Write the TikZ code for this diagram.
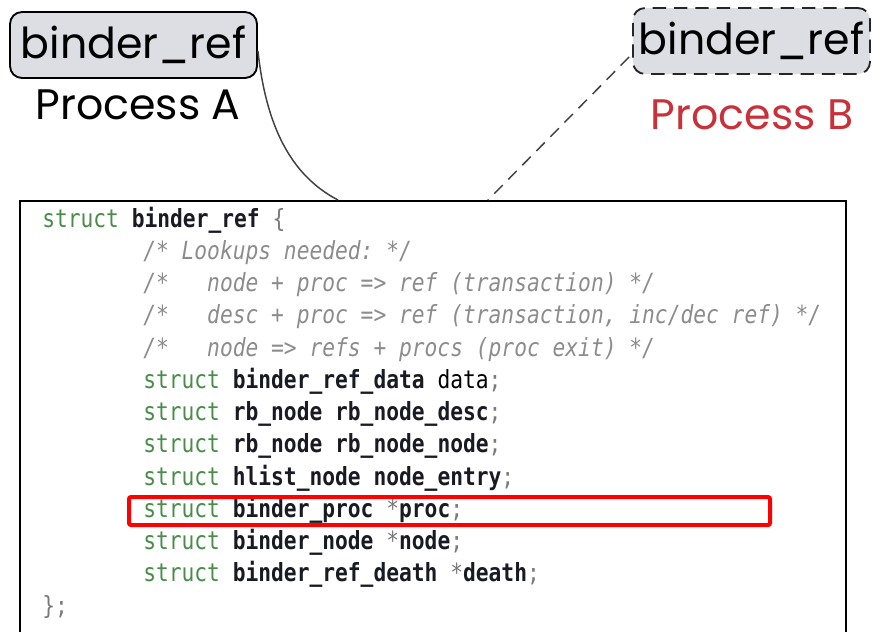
\documentclass[tikz,border=0pt]{standalone}
\usepackage{fontspec}
\usetikzlibrary{calc}
\newfontfamily\handfont{Poppins}
\newfontfamily\codefont[FakeStretch=0.85]{DejaVu Sans Mono}
\definecolor{boxfill}{HTML}{DCDEE3}
\definecolor{kwgreen}{HTML}{4A8C4A}
\definecolor{cmgray}{HTML}{8C8C8C}
\definecolor{pugray}{HTML}{7A7A7A}
\definecolor{idblack}{HTML}{1A1A24}
\definecolor{procred}{HTML}{C8313A}
\newcommand{\kw}[1]{\textcolor{kwgreen}{#1}}
\newcommand{\idf}[1]{\textcolor{idblack}{\bfseries #1}}
\newcommand{\cmt}[1]{\textcolor{cmgray}{\itshape #1}}
\newcommand{\pun}[1]{\textcolor{pugray}{#1}}
\frenchspacing
\begin{document}
\begin{tikzpicture}[x=0.75pt,y=-0.75pt,
  refbox/.style={rounded corners=9pt, fill=boxfill, line width=1.4pt,
    minimum width=247*0.75pt, minimum height=66*0.75pt, inner sep=0pt,
    font=\handfont\fontsize{32}{38}\selectfont},
  proclabel/.style={inner sep=0pt, font=\handfont\fontsize{32}{38}\selectfont},
  codeline/.style={anchor=base west, inner sep=0pt,
    font=\codefont\fontsize{18.75}{24}\selectfont},
  link/.style={line width=1.1pt, draw=black!75}
]
\useasboundingbox (0,0) rectangle (875,632);
\clip (0,0) rectangle (875,632);

% the two references held by the processes
\node[refbox, draw=black] (refA) at (133.5,45) {binder\_ref};
\node[proclabel, text=black] (procA) at (138,105) {Process A};
\node[refbox, draw=black!85, dash pattern=on 10pt off 6pt, minimum width=237*0.75pt] (refB) at (751.5,41) {binder\_ref};
\node[proclabel, text=procred] (procB) at (752,115) {Process B};

% code frame (open at the bottom)
\node[draw=black, line width=1.2pt, minimum width=826*0.75pt, minimum height=480*0.75pt,
  anchor=north west, inner sep=0pt] (code) at (19,200) {};
\coordinate (codeA) at (338,200);
\coordinate (codeB) at (488,200);

% links from the references to the struct
\draw[link] ($(refA.east)+(0,6)$) .. controls (266,125) and (290,175) .. (codeA);
\draw[link, dash pattern=on 9pt off 6pt] ($(refB.west)+(-3,16)$) -- (codeB);

% struct binder_ref
\begin{scope}[yshift=-2*0.75pt]
\node[codeline] (l1) at (42,225) {\kw{struct} \idf{binder\_ref} \pun{\{}};
\node[codeline] (l2) at (143,257.25) {\cmt{/* Lookups needed: */}};
\node[codeline] (l3) at (143,289.5) {\cmt{/*\ \ \ node + proc => ref (transaction) */}};
\node[codeline] (l4) at (143,321.75) {\cmt{/*\ \ \ desc + proc => ref (transaction, inc/dec ref) */}};
\node[codeline] (l5) at (143,354) {\cmt{/*\ \ \ node => refs + procs (proc exit) */}};
\node[codeline] (l6) at (143,386.25) {\kw{struct} \idf{binder\_ref\_data} data\pun{;}};
\node[codeline] (l7) at (143,418.5) {\kw{struct} \idf{rb\_node rb\_node\_desc}\pun{;}};
\node[codeline] (l8) at (143,450.75) {\kw{struct} \idf{rb\_node rb\_node\_node}\pun{;}};
\node[codeline] (l9) at (143,483) {\kw{struct} \idf{hlist\_node node\_entry}\pun{;}};
\node[codeline] (l10) at (143,515.25) {\kw{struct} \idf{binder\_proc} \pun{*}\idf{proc}\pun{;}};
\node[codeline] (l11) at (143,547.5) {\kw{struct} \idf{binder\_node} \pun{*}\idf{node}\pun{;}};
\node[codeline] (l12) at (143,579.75) {\kw{struct} \idf{binder\_ref\_death} \pun{*}\idf{death}\pun{;}};
\node[codeline] (l13) at (42,612) {\pun{\};}};
\end{scope}

% highlight of the proc member
\draw[red, line width=3pt, rounded corners=1.5pt] (129,497) rectangle (770,525);
\end{tikzpicture}
\end{document}
